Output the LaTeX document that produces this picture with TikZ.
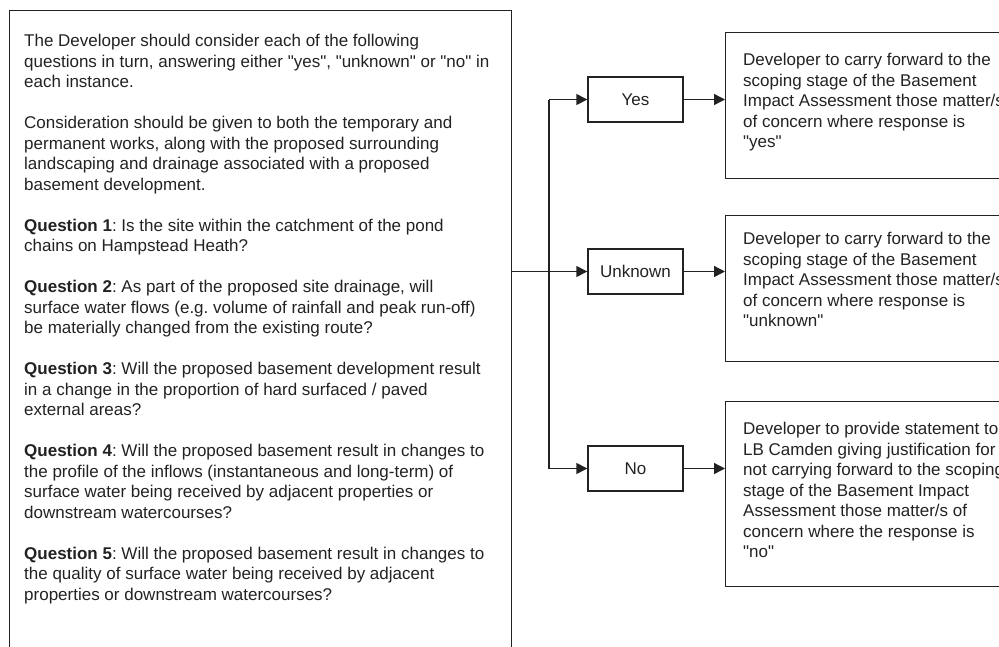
\documentclass[tikz,border=0pt]{standalone}
\usepackage{fontspec}
\setmainfont{Liberation Sans}[Ligatures=TeXOff]
\usetikzlibrary{arrows.meta}
\definecolor{ink}{HTML}{222222}
\frenchspacing
\begin{document}
\begin{tikzpicture}[x=1pt,y=-1pt,
  txt/.style={font=\fontsize{17}{20.5}\selectfont, text=ink},
  box/.style={draw=ink, line width=1.4pt, inner sep=0pt},
  ansbox/.style={box, txt, minimum width=95pt, minimum height=45pt},
  para/.style={txt, align=left, inner sep=0pt, anchor=north west},
  link/.style={draw=ink, line width=1.4pt},
  arr/.style={link, -{Triangle[length=11pt,width=11pt]}},
]
\useasboundingbox (0,0) rectangle (999,646);
\clip (0,0) rectangle (999,646);

% boxes
\node[box, anchor=north west, minimum width=502pt, minimum height=700pt] (qbox) at (9,10) {};
\node[box, anchor=north west, minimum width=300pt, minimum height=146pt] (ryes) at (725,32) {};
\node[box, anchor=north west, minimum width=300pt, minimum height=146pt] (runk) at (725,215) {};
\node[box, anchor=north west, minimum width=300pt, minimum height=185pt] (rno) at (725,401) {};

\node[ansbox] (yes) at (635.5,99.5) {Yes};
\node[ansbox] (unk) at (635.5,271.5) {Unknown};
\node[ansbox] (no) at (635.5,468.5) {No};

% texts
\node[para] (qtext) at (24,34) {The Developer should consider each of the following\\
questions in turn, answering either "yes", "unknown" or "no" in\\
each instance.\\[20.5pt]
Consideration should be given to both the temporary and\\
permanent works, along with the proposed surrounding\\
landscaping and drainage associated with a proposed\\
basement development.\\[20.5pt]
\textbf{Question 1}: Is the site within the catchment of the pond\\
chains on Hampstead Heath?\\[20.5pt]
\textbf{Question 2}: As part of the proposed site drainage, will\\
surface water flows (e.g. volume of rainfall and peak run-off)\\
be materially changed from the existing route?\\[20.5pt]
\textbf{Question 3}: Will the proposed basement development result\\
in a change in the proportion of hard surfaced / paved\\
external areas?\\[20.5pt]
\textbf{Question 4}: Will the proposed basement result in changes to\\
the profile of the inflows (instantaneous and long-term) of\\
surface water being received by adjacent properties or\\
downstream watercourses?\\[20.5pt]
\textbf{Question 5}: Will the proposed basement result in changes to\\
the quality of surface water being received by adjacent\\
properties or downstream watercourses?};

\node[para] (tyes) at (743,53) {Developer to carry forward to the\\
scoping stage of the Basement\\
Impact Assessment those matter/s\\
of concern where response is\\
"yes"};
\node[para] (tunk) at (743,232) {Developer to carry forward to the\\
scoping stage of the Basement\\
Impact Assessment those matter/s\\
of concern where response is\\
"unknown"};
\node[para] (tno) at (743,422) {Developer to provide statement to\\
LB Camden giving justification for\\
not carrying forward to the scoping\\
stage of the Basement Impact\\
Assessment those matter/s of\\
concern where the response is\\
"no"};

% connectors
\coordinate (trunk) at (549,271.5);
\draw[arr] (qbox.east |- unk) -- (unk.west);
\draw[link] (trunk |- yes) -- (trunk |- no);
\draw[arr] (trunk |- yes) -- (yes.west);
\draw[arr] (trunk |- no) -- (no.west);
\draw[arr] (yes.east) -- (ryes.west |- yes);
\draw[arr] (unk.east) -- (runk.west |- unk);
\draw[arr] (no.east) -- (rno.west |- no);
\end{tikzpicture}
\end{document}
